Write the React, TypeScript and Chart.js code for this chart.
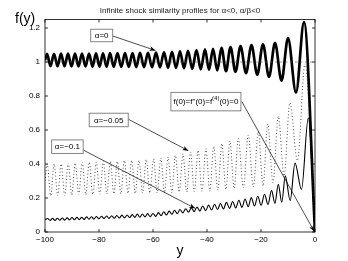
import React, { useEffect, useRef } from 'react';
import { Chart, registerables } from 'chart.js';

Chart.register(...registerables);

// ---------- data ----------
const xTicks = [-100, -80, -60, -40, -20, 0];
const yTicks = [0, 0.2, 0.4, 0.6, 0.8, 1, 1.2];

// alpha = 0 (thick solid): extrema positions and values
const alpha0X = [-100, -99.26, -97.96, -96.67, -95.37, -94.07, -92.78, -91.48, -90.19, -88.89, -87.6, -86.3, -85.0, -83.7, -82.4, -81.11, -79.8, -78.52, -77.2, -75.93, -74.54, -73.15, -71.76, -70.37, -68.98, -67.59, -66.2, -64.81, -63.33, -61.85, -60.37, -58.89, -57.41, -55.93, -54.44, -52.96, -51.48, -50.0, -48.52, -47.04, -45.46, -43.89, -42.31, -40.74, -39.26, -37.78, -36.2, -34.63, -32.96, -31.3, -29.44, -27.59, -25.55, -23.52, -21.39, -19.26, -17.04, -14.81, -12.4, -10.0, -7.04, -4.07, 0];
const alpha0Y = [1.01, 1.048, 0.975, 1.048, 0.975, 1.049, 0.975, 1.049, 0.974, 1.05, 0.974, 1.05, 0.974, 1.05, 0.973, 1.051, 0.973, 1.051, 0.972, 1.052, 0.972, 1.052, 0.971, 1.053, 0.971, 1.053, 0.97, 1.054, 0.97, 1.054, 0.969, 1.055, 0.968, 1.057, 0.966, 1.06, 0.965, 1.063, 0.963, 1.066, 0.96, 1.07, 0.957, 1.074, 0.954, 1.078, 0.95, 1.083, 0.946, 1.088, 0.942, 1.094, 0.935, 1.1, 0.925, 1.104, 0.912, 1.112, 0.89, 1.14, 0.82, 1.235, 0];

// alpha = -0.05 (dotted)
const alpha005X = [-100, -99.2, -97.9, -96.6, -95.3, -94.0, -92.7, -91.4, -90.1, -88.8, -87.5, -86.2, -84.9, -83.6, -82.3, -81.0, -79.7, -78.4, -77.1, -75.8, -74.5, -73.2, -71.9, -70.6, -69.25, -67.9, -66.55, -65.2, -63.85, -62.5, -61.15, -59.8, -58.45, -57.1, -55.75, -54.4, -53.05, -51.7, -50.3, -48.9, -47.5, -46.1, -44.7, -43.3, -41.85, -40.4, -38.95, -37.5, -36.0, -34.5, -33.0, -31.5, -29.95, -28.4, -26.55, -24.7, -22.85, -21.0, -19.25, -17.5, -15.55, -13.6, -11.45, -9.3, -6.5, -3.7, 0];
const alpha005Y = [0.3, 0.4, 0.215, 0.4, 0.215, 0.4, 0.215, 0.405, 0.218, 0.405, 0.22, 0.41, 0.22, 0.41, 0.222, 0.41, 0.222, 0.415, 0.225, 0.415, 0.225, 0.415, 0.225, 0.42, 0.228, 0.42, 0.228, 0.42, 0.23, 0.425, 0.23, 0.43, 0.23, 0.435, 0.232, 0.44, 0.232, 0.45, 0.235, 0.46, 0.235, 0.47, 0.238, 0.48, 0.24, 0.49, 0.24, 0.505, 0.245, 0.52, 0.25, 0.535, 0.255, 0.55, 0.26, 0.57, 0.265, 0.59, 0.27, 0.635, 0.29, 0.68, 0.33, 0.76, 0.42, 0.99, 0];

// alpha = -0.1 (thin solid)
const alpha01X = [-100, -99.0, -98.1, -97.2, -96.3, -95.4, -94.5, -93.6, -92.7, -91.8, -90.9, -90.0, -89.1, -88.2, -87.3, -86.4, -85.5, -84.6, -83.7, -82.8, -81.9, -81.0, -80.05, -79.1, -78.15, -77.2, -76.25, -75.3, -74.35, -73.4, -72.45, -71.5, -70.55, -69.6, -68.65, -67.7, -66.75, -65.8, -64.85, -63.9, -62.95, -62.0, -61.0, -60.0, -59.0, -58.0, -57.0, -56.0, -55.0, -54.0, -53.0, -52.0, -51.0, -50.0, -48.95, -47.9, -46.85, -45.8, -44.75, -43.7, -42.65, -41.6, -40.5, -39.4, -38.3, -37.2, -36.1, -35.0, -33.9, -32.8, -31.65, -30.5, -29.35, -28.2, -27.05, -25.9, -24.75, -23.6, -22.4, -21.2, -19.95, -18.7, -17.4, -16.1, -14.85, -13.6, -12.3, -11.0, -9.2, -7.4, -5.0, -2.5, 0];
const alpha01Y = [0.073, 0.079, 0.068, 0.08, 0.068, 0.081, 0.069, 0.082, 0.07, 0.083, 0.071, 0.085, 0.072, 0.086, 0.073, 0.087, 0.074, 0.089, 0.075, 0.09, 0.076, 0.091, 0.078, 0.093, 0.079, 0.094, 0.08, 0.096, 0.081, 0.097, 0.082, 0.099, 0.083, 0.1, 0.085, 0.102, 0.086, 0.105, 0.087, 0.106, 0.089, 0.108, 0.09, 0.109, 0.092, 0.114, 0.096, 0.119, 0.1, 0.123, 0.104, 0.128, 0.108, 0.132, 0.112, 0.137, 0.116, 0.142, 0.12, 0.147, 0.123, 0.153, 0.126, 0.158, 0.129, 0.163, 0.132, 0.168, 0.135, 0.174, 0.139, 0.179, 0.142, 0.187, 0.145, 0.194, 0.149, 0.202, 0.153, 0.21, 0.157, 0.222, 0.162, 0.245, 0.168, 0.28, 0.175, 0.33, 0.185, 0.405, 0.25, 0.67, 0];

// reference level f = 1
const refX = [-100, 0];
const refY = [1, 1];

// annotation boxes (data coordinates) and arrows
type Seg = { t: string; sup?: boolean };
const annotations: { segs: Seg[]; cx: number; cy: number; w: number; h: number; from: [number, number]; to: [number, number] }[] = [
  { segs: [{ t: 'α=0' }], cx: -79.0, cy: 1.156, w: 22, h: 12.5, from: [-74.9, 1.153], to: [-59.1, 1.068] },
  { segs: [{ t: 'α=−0.05' }], cx: -76.4, cy: 0.659, w: 39, h: 13.5, from: [-69.1, 0.663], to: [-46.9, 0.478] },
  { segs: [{ t: 'α=−0.1' }], cx: -91.7, cy: 0.502, w: 31.5, h: 13.5, from: [-85.8, 0.482], to: [-44.4, 0.139] },
  { segs: [{ t: "f(0)=f''(0)=f" }, { t: '(4)', sup: true }, { t: '(0)=0' }], cx: -40.4, cy: 0.767, w: 70, h: 18.5, from: [-27.1, 0.767], to: [-0.3, 0.004] },
];

const FONT = '"Liberation Sans", Arial, Helvetica, sans-serif';

function pts(xs: number[], ys: number[]) {
  const n = Math.min(xs.length, ys.length);
  const out: { x: number; y: number }[] = [];
  for (let i = 0; i < n; i++) out.push({ x: xs[i], y: ys[i] });
  return out;
}

function fmt(v: number) {
  const s = String(Math.round(Math.abs(v) * 100) / 100);
  return v < 0 ? '−' + s : s;
}

const decorPlugin = {
  id: 'decor',
  beforeDraw(chart: any) {
    const ctx = chart.ctx;
    ctx.save();
    ctx.fillStyle = '#fff';
    ctx.fillRect(0, 0, chart.width, chart.height);
    ctx.restore();
  },
  afterDraw(chart: any) {
    const ctx: CanvasRenderingContext2D = chart.ctx;
    const { left, right, top, bottom } = chart.chartArea;
    const xs = chart.scales.x;
    const ys = chart.scales.y;
    ctx.save();
    // axes box
    ctx.strokeStyle = '#000';
    ctx.lineWidth = 0.8;
    ctx.strokeRect(left, top, right - left, bottom - top);
    // inward ticks on all sides
    const tl = 3;
    ctx.beginPath();
    for (const t of xs.ticks) {
      const px = xs.getPixelForValue(t.value);
      ctx.moveTo(px, bottom); ctx.lineTo(px, bottom - tl);
      ctx.moveTo(px, top); ctx.lineTo(px, top + tl);
    }
    for (const t of ys.ticks) {
      const py = ys.getPixelForValue(t.value);
      ctx.moveTo(left, py); ctx.lineTo(left + tl, py);
      ctx.moveTo(right, py); ctx.lineTo(right - tl, py);
    }
    ctx.stroke();

    // annotations
    for (const a of annotations) {
      const cx = xs.getPixelForValue(a.cx);
      const cy = ys.getPixelForValue(a.cy);
      const x0 = xs.getPixelForValue(a.from[0]);
      const y0 = ys.getPixelForValue(a.from[1]);
      const x1 = xs.getPixelForValue(a.to[0]);
      const y1 = ys.getPixelForValue(a.to[1]);
      ctx.strokeStyle = '#000';
      ctx.lineWidth = 0.7;
      ctx.beginPath();
      ctx.moveTo(x0, y0);
      ctx.lineTo(x1, y1);
      ctx.stroke();
      const ang = Math.atan2(y1 - y0, x1 - x0);
      const L = 6, W = 2.3;
      const c = Math.cos(ang), s = Math.sin(ang);
      ctx.fillStyle = '#000';
      ctx.beginPath();
      ctx.moveTo(x1, y1);
      ctx.lineTo(x1 - L * c + W * s, y1 - L * s - W * c);
      ctx.lineTo(x1 - L * 0.7 * c, y1 - L * 0.7 * s);
      ctx.lineTo(x1 - L * c - W * s, y1 - L * s + W * c);
      ctx.closePath();
      ctx.fill();
      ctx.fillStyle = '#fff';
      ctx.fillRect(cx - a.w / 2, cy - a.h / 2, a.w, a.h);
      ctx.strokeStyle = '#777';
      ctx.lineWidth = 0.9;
      ctx.strokeRect(cx - a.w / 2, cy - a.h / 2, a.w, a.h);
      ctx.fillStyle = '#000';
      ctx.textBaseline = 'middle';
      ctx.textAlign = 'left';
      let total = 0;
      for (const sg of a.segs) {
        ctx.font = `${sg.sup ? 6 : 8}px ${FONT}`;
        total += ctx.measureText(sg.t).width;
      }
      let tx = cx - total / 2;
      for (const sg of a.segs) {
        ctx.font = `${sg.sup ? 6 : 8}px ${FONT}`;
        ctx.fillText(sg.t, tx, cy + (sg.sup ? -3 : 0.5));
        tx += ctx.measureText(sg.t).width;
      }
    }

    // title and axis labels
    ctx.fillStyle = '#222';
    ctx.textAlign = 'center';
    ctx.textBaseline = 'middle';
    ctx.font = `8px ${FONT}`;
    ctx.fillText('Infinite shock similarity profiles for α<0, α/β<0', (left + right) / 2, 10.5);
    ctx.fillStyle = '#000';
    ctx.font = `14px ${FONT}`;
    ctx.textAlign = 'left';
    ctx.textBaseline = 'alphabetic';
    ctx.fillText('f(y)', 15, 23);
    ctx.textAlign = 'center';
    ctx.fillText('y', (left + right) / 2, 254.5);
    ctx.restore();
  },
};

export default function App() {
  const ref = useRef<HTMLCanvasElement>(null);
  useEffect(() => {
    if (!ref.current) return;
    const chart = new Chart(ref.current, {
      type: 'line',
      data: {
        datasets: [
          { label: 'ref', data: pts(refX, refY), borderColor: '#555', borderWidth: 0.6, borderDash: [2.5, 2.5], pointRadius: 0 },
          { label: 'α=−0.05', data: pts(alpha005X, alpha005Y), borderColor: '#222', borderWidth: 0.9, borderDash: [0.9, 2.4], pointRadius: 0, cubicInterpolationMode: 'monotone' },
          { label: 'α=−0.1', data: pts(alpha01X, alpha01Y), borderColor: '#000', borderWidth: 1.1, pointRadius: 0, cubicInterpolationMode: 'monotone' },
          { label: 'α=0', data: pts(alpha0X, alpha0Y), borderColor: '#000', borderWidth: 2.7, pointRadius: 0, cubicInterpolationMode: 'monotone' },
        ],
      },
      options: {
        animation: false,
        responsive: false,
        devicePixelRatio: 1,
        parsing: false as any,
        layout: { padding: { left: 0, top: 19.5, right: 33, bottom: 0 } },
        plugins: { legend: { display: false }, title: { display: false }, tooltip: { enabled: false } },
        elements: { line: { borderCapStyle: 'butt', borderJoinStyle: 'round' } },
        scales: {
          x: {
            type: 'linear',
            min: -100,
            max: 0,
            afterBuildTicks: (s: any) => { s.ticks = xTicks.map((v) => ({ value: v })); },
            afterFit: (s: any) => { s.height = 29; },
            grid: { display: false, drawTicks: false },
            border: { display: false },
            ticks: { padding: 3, color: '#000', font: { size: 8, family: FONT }, maxRotation: 0, callback: (v: any) => fmt(Number(v)) },
          },
          y: {
            type: 'linear',
            min: 0,
            max: 1.25,
            afterBuildTicks: (s: any) => { s.ticks = yTicks.map((v) => ({ value: v })); },
            afterFit: (s: any) => { s.width = 45; },
            grid: { display: false, drawTicks: false },
            border: { display: false },
            ticks: { padding: 5, color: '#000', font: { size: 8, family: FONT }, callback: (v: any) => fmt(Number(v)) },
          },
        },
      },
      plugins: [decorPlugin],
    } as any);
    return () => chart.destroy();
  }, []);
  return (
    <div style={{ position: 'absolute', left: 0, top: 0, width: 348, height: 261, background: '#fff' }}>
      <canvas ref={ref} width={348} height={261} style={{ width: 348, height: 261, display: 'block' }} />
    </div>
  );
}
